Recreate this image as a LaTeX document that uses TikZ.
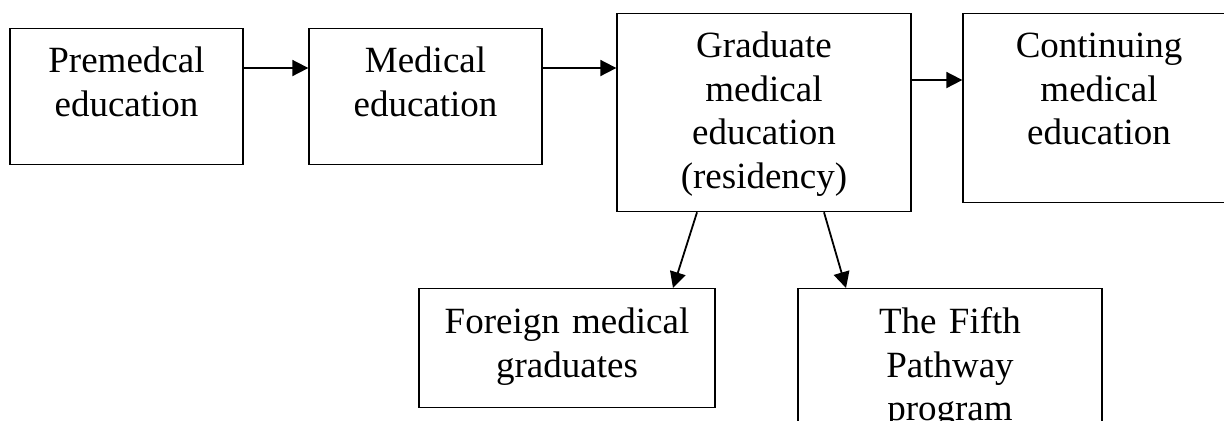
\documentclass[tikz,border=0pt]{standalone}
\usepackage{fontspec}
\setmainfont{Liberation Serif}
\usetikzlibrary{arrows.meta}

\tikzstyle{stage} = [draw, rectangle, line width=0.65pt, anchor=north, align=center, inner sep=0pt, font=\fontsize{18.5}{21.75}\selectfont]
\tikzstyle{flow}  = [-{Triangle[length=8pt,width=8pt]}, line width=0.9pt]

\begin{document}
\begin{tikzpicture}[x=0.5pt,y=-0.5pt]
  \useasboundingbox (0,0) rectangle (1224,420);
  \node at (126.5,28) (premed) [stage, text width=116.5pt, text height=22pt, text depth=46pt] {Premedcal\\education};
  \node at (425.5,28) (med)    [stage, text width=116.5pt, text height=22pt, text depth=46pt] {Medical\\education};
  \node at (764,13)   (grad)   [stage, text width=147pt, text height=22pt, text depth=77pt] {Graduate\\medical\\education\\(residency)};
  \node at (1099,13)  (cont)   [stage, text width=136pt, text height=22pt, text depth=72.5pt] {Continuing\\medical\\education};
  \node at (567,288)  (foreign) [stage, text width=148pt, text height=22.5pt, text depth=37pt] {Foreign medical\\graduates};
  \node at (950,288)  (fifth)  [stage, text width=152pt, text height=22.5pt, text depth=68.5pt] {The Fifth\\Pathway\\program};
  \path[flow] ([yshift=-20pt]premed.north east) edge ([yshift=-20pt]med.north west);
  \path[flow] ([yshift=-20pt]med.north east) edge ([yshift=-27.5pt]grad.north west);
  \path[flow] ([yshift=-33.5pt]grad.north east) edge ([yshift=-33.5pt]cont.north west);
  \path[flow] ([xshift=-33.5pt]grad.south) edge ([xshift=53pt]foreign.north);
  \path[flow] ([xshift=30pt]grad.south) edge ([xshift=-52pt]fifth.north);
\end{tikzpicture}
\end{document}
